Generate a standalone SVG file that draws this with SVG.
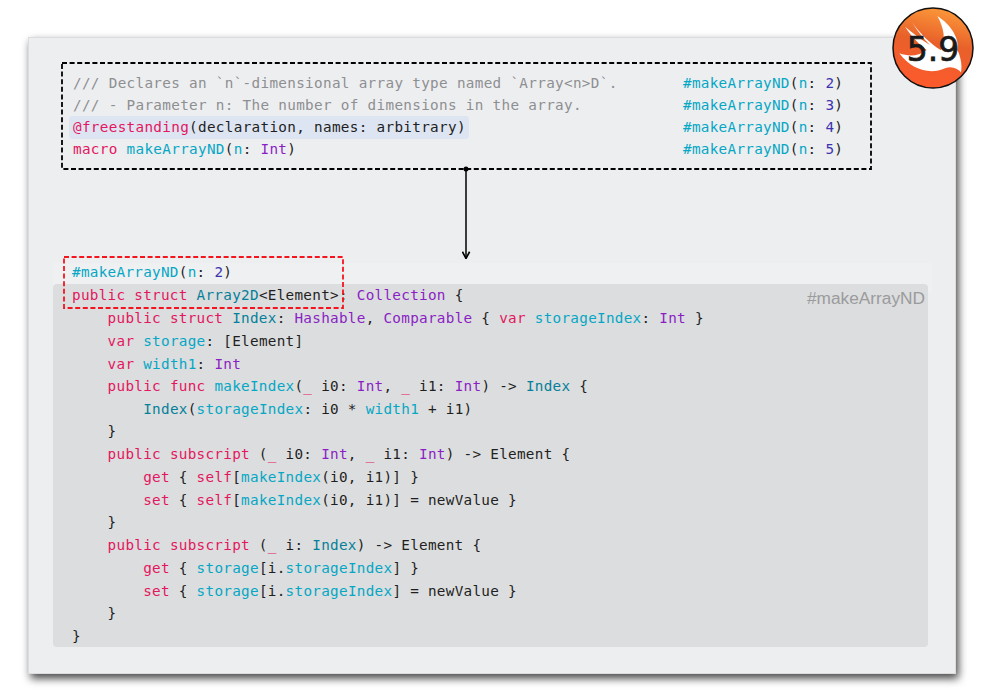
<svg xmlns="http://www.w3.org/2000/svg" width="1000" height="689" viewBox="0 0 1000 689">
<style>
.c{font-family:"DejaVu Sans Mono","Liberation Mono",monospace;font-size:14.3px;letter-spacing:.29px;fill:#1f1f22;white-space:pre}
.w{letter-spacing:.32px}
.k{fill:#e3175f}.f{fill:#05a7c5}.t{fill:#8a1fc4}.u{fill:#05809a}.n{fill:#3d33b0}.g{fill:#8e8f91}
.dash{fill:none;stroke-width:1.8;stroke-dasharray:5 2.6}
</style>
<defs>
<filter id="sh" x="-5%" y="-5%" width="110%" height="110%"><feDropShadow dx="2.5" dy="4.5" stdDeviation="4.500" flood-color="#000" flood-opacity=".72"/></filter>
<linearGradient id="og" x1=".7" y1="0" x2=".5" y2="1"><stop offset="0" stop-color="#fc9a3a"/><stop offset=".45" stop-color="#e8602a"/><stop offset="1" stop-color="#fd5a2c"/></linearGradient>
<marker id="ah" viewBox="0 0 10 10" refX="9" refY="5" markerWidth="9" markerHeight="9" orient="auto" markerUnits="userSpaceOnUse"><path d="M1.500 1L9 5L1.500 9" fill="none" stroke="#000" stroke-width="1.800"/></marker>
</defs>
<rect id="panel" x="28.500" y="37.500" width="927" height="636" fill="#edeef0" stroke="#dcdcde" filter="url(#sh)"/>
<g id="expansion">
<rect x="53" y="263" width="879" height="30" fill="#eff0f1"/>
<rect x="53" y="284" width="875" height="363" rx="4" fill="#dcddde"/>
<text x="925" y="304" text-anchor="end" font-family="Liberation Sans,sans-serif" font-size="17.300" fill="#9a9b9d">#makeArrayND</text>
<g>
<text class="c" x="72" y="277"><tspan class="f">#makeArrayND</tspan>(<tspan class="f">n</tspan>: <tspan class="n">2</tspan>)</text>
<text class="c" x="72" y="300"><tspan class="k">public struct</tspan> <tspan class="u">Array2D</tspan>&lt;Element&gt;: <tspan class="t">Collection</tspan> {</text>
<text class="c" x="107.600" y="323"><tspan class="k">public struct</tspan> <tspan class="u">Index</tspan>: <tspan class="t">Hashable</tspan>, <tspan class="t">Comparable</tspan> { <tspan class="k">var</tspan> <tspan class="f">storageIndex</tspan>: <tspan class="t">Int</tspan> }</text>
<text class="c" x="107.600" y="346"><tspan class="k">var</tspan> <tspan class="f">storage</tspan>: [Element]</text>
<text class="c" x="107.600" y="369"><tspan class="k">var</tspan> <tspan class="f">width1</tspan>: <tspan class="t">Int</tspan></text>
<text class="c" x="107.600" y="391"><tspan class="k">public func</tspan> <tspan class="f">makeIndex</tspan>(<tspan class="k">_</tspan> i0: <tspan class="t">Int</tspan>, <tspan class="k">_</tspan> i1: <tspan class="t">Int</tspan>) -&gt; <tspan class="u">Index</tspan> {</text>
<text class="c" x="143.200" y="414"><tspan class="u">Index</tspan>(<tspan class="f">storageIndex</tspan>: i0 * <tspan class="f">width1</tspan> + i1)</text>
<text class="c" x="107.600" y="436">}</text>
<text class="c" x="107.600" y="459"><tspan class="k">public subscript</tspan> (<tspan class="k">_</tspan> i0: <tspan class="t">Int</tspan>, <tspan class="k">_</tspan> i1: <tspan class="t">Int</tspan>) -&gt; Element {</text>
<text class="c" x="143.200" y="482"><tspan class="k">get</tspan> { <tspan class="k">self</tspan>[<tspan class="f">makeIndex</tspan>(i0, i1)] }</text>
<text class="c" x="143.200" y="505"><tspan class="k">set</tspan> { <tspan class="k">self</tspan>[<tspan class="f">makeIndex</tspan>(i0, i1)] = newValue }</text>
<text class="c" x="107.600" y="527">}</text>
<text class="c" x="107.600" y="550"><tspan class="k">public subscript</tspan> (<tspan class="k">_</tspan> i: <tspan class="u">Index</tspan>) -&gt; Element {</text>
<text class="c" x="143.200" y="573"><tspan class="k">get</tspan> { <tspan class="f">storage</tspan>[i.<tspan class="f">storageIndex</tspan>] }</text>
<text class="c" x="143.200" y="596"><tspan class="k">set</tspan> { <tspan class="f">storage</tspan>[i.<tspan class="f">storageIndex</tspan>] = newValue }</text>
<text class="c" x="107.600" y="618">}</text>
<text class="c" x="72" y="641">}</text>
</g>
<rect x="64" y="257" width="279" height="51" class="dash" stroke="#f5141e"/>
</g>
<g id="declaration">
<rect x="62" y="63" width="809" height="106" class="dash" stroke="#000"/>
<rect x="69" y="116" width="400" height="23" rx="4" fill="#dde5f3"/>
<text class="c g w" x="73" y="88">/// Declares an `n`-dimensional array type named `Array&lt;n&gt;D`.</text>
<text class="c g w" x="73" y="110">/// - Parameter n: The number of dimensions in the array.</text>
<text class="c w" x="73" y="132"><tspan class="k">@freestanding</tspan>(declaration, names: arbitrary)</text>
<text class="c w" x="73" y="154"><tspan class="k">macro</tspan> <tspan class="f">makeArrayND</tspan>(<tspan class="f">n</tspan>: <tspan class="t">Int</tspan>)</text>
<text class="c" x="683" y="88"><tspan class="f">#makeArrayND</tspan>(<tspan class="f">n</tspan>: <tspan class="n">2</tspan>)</text>
<text class="c" x="683" y="110"><tspan class="f">#makeArrayND</tspan>(<tspan class="f">n</tspan>: <tspan class="n">3</tspan>)</text>
<text class="c" x="683" y="132"><tspan class="f">#makeArrayND</tspan>(<tspan class="f">n</tspan>: <tspan class="n">4</tspan>)</text>
<text class="c" x="683" y="154"><tspan class="f">#makeArrayND</tspan>(<tspan class="f">n</tspan>: <tspan class="n">5</tspan>)</text>
</g>
<g id="connectors">
<circle cx="466" cy="169" r="2.500" fill="#000"/>
<path d="M466 169V258.500" fill="none" stroke="#000" stroke-width="1.500" marker-end="url(#ah)"/>
</g>
<g id="badge">
<circle cx="933" cy="48" r="40" fill="url(#og)" stroke="#111" stroke-width="1.500"/>
<path transform="translate(880 0) scale(.3333)" fill="#fff" d="M172,48C190,80 200,120 182,150C150,130 120,100 97,68C112,92 130,115 150,135C125,120 100,100 75,80C95,110 115,130 140,150C115,170 85,170 58,160C95,210 150,225 195,205C215,197 232,205 243,217C248,195 240,165 232,150C240,120 215,75 172,48Z"/>
<text x="933" y="61" text-anchor="middle" font-family="DejaVu Sans,sans-serif" font-size="33" fill="#1a1a1a" stroke="#1a1a1a" stroke-width=".7">5.9</text>
</g>
</svg>
